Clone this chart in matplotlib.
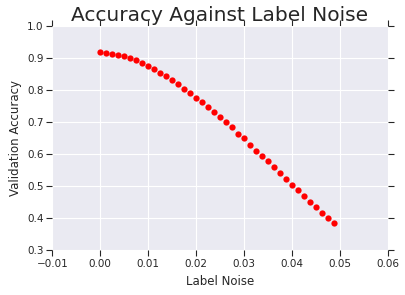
import matplotlib
matplotlib.use("Agg")
import matplotlib.pyplot as plt
import seaborn as sns

# label noise levels (step 0.00125)
noise = [0.0, 0.00125, 0.0025, 0.00375, 0.005, 0.00625, 0.0075, 0.00875,
         0.01, 0.01125, 0.0125, 0.01375, 0.015, 0.01625, 0.0175, 0.01875,
         0.02, 0.02125, 0.0225, 0.02375, 0.025, 0.02625, 0.0275, 0.02875,
         0.03, 0.03125, 0.0325, 0.03375, 0.035, 0.03625, 0.0375, 0.03875,
         0.04, 0.04125, 0.0425, 0.04375, 0.045, 0.04625, 0.0475, 0.04875]

accuracy = [0.919, 0.916, 0.915, 0.909, 0.906, 0.900, 0.894, 0.884,
            0.875, 0.866, 0.853, 0.844, 0.831, 0.819, 0.803, 0.791,
            0.775, 0.762, 0.747, 0.731, 0.716, 0.700, 0.684, 0.663,
            0.650, 0.628, 0.609, 0.594, 0.578, 0.559, 0.541, 0.522,
            0.503, 0.488, 0.469, 0.450, 0.434, 0.416, 0.400, 0.384]

xticks = [-0.01, 0.00, 0.01, 0.02, 0.03, 0.04, 0.05, 0.06]
yticks = [0.3, 0.4, 0.5, 0.6, 0.7, 0.8, 0.9, 1.0]

sns.set_style("darkgrid")
plt.rcParams['font.family'] = ['DejaVu Sans']

fig = plt.figure(figsize=(4.06, 2.95), dpi=100)
ax = fig.add_axes([0.129, 0.1515, 0.826, 0.7593])

ax.plot(noise, accuracy, 'o', color='red', markersize=4.5, markeredgewidth=0)

ax.set_xlim(-0.01, 0.06)
ax.set_ylim(0.3, 1.0)
ax.set_xticks(xticks)
ax.set_yticks(yticks)
ax.set_xticklabels(["%.2f" % t if t >= 0 else "\u22120.01" for t in xticks])
ax.set_yticklabels(["%.1f" % t for t in yticks])

ax.tick_params(direction='out', length=4.2, width=0.8, color='#262626',
               labelsize=7.5, labelcolor='#262626', pad=2,
               top=True, right=True, bottom=True, left=True)
for s in ax.spines.values():
    s.set_visible(False)

ax.set_xlabel('Label Noise', fontsize=8.5, color='#262626', labelpad=4.5)
ax.set_ylabel('Validation Accuracy', fontsize=8.5, color='#262626', labelpad=4)
ax.set_title('Accuracy Against Label Noise', fontsize=14.5, color='#262626', pad=3.5)

fig.savefig('out.png', dpi=100)
plt.close(fig)
